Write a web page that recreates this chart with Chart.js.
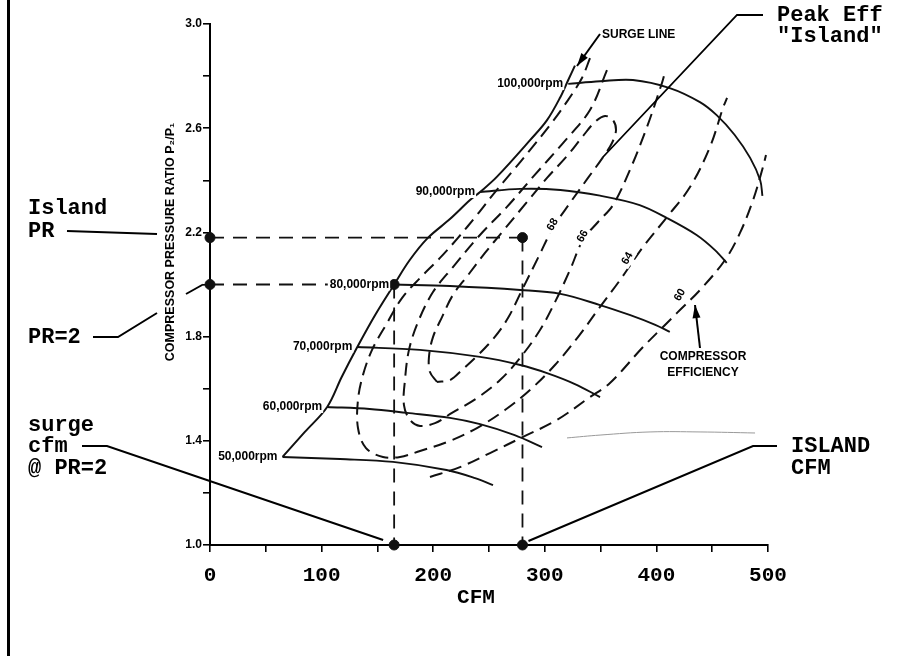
<!DOCTYPE html>
<html>
<head>
<meta charset="utf-8">
<title>Compressor map</title>
<script src="https://cdn.jsdelivr.net/npm/chart.js@4.4.0/dist/chart.umd.min.js"></script>
<style>
  html, body { margin: 0; padding: 0; background: #fff; }
  #wrap { position: relative; width: 899px; height: 656px; }
</style>
</head>
<body>
<div id="wrap"><canvas id="mapa"></canvas></div>
<script>
const xTicks = [0, 100, 200, 300, 400, 500];
const yTicks = [1.0, 1.4, 1.8, 2.2, 2.6, 3.0];

const surgeLine = [[65,1.338],[85,1.434],[105,1.53],[118,1.645],[132,1.76],[148,1.883],[165,2.0],
  [179,2.094],[195,2.178],[215,2.251],[233,2.324],[242,2.355],[257,2.413],[287,2.555],[302,2.631],
  [314,2.72],[321,2.785],[327,2.84]];

const rpm100 = [[321,2.77],[349.5,2.78],[379,2.785],[412,2.754],[439,2.70],[454,2.65],[470,2.575],[484,2.486],[493,2.40],[495,2.34]];
const rpm90 = [[242,2.355],[278,2.367],[314,2.363],[349.5,2.341],[385,2.305],[409.5,2.255],[436,2.19],[452.5,2.132],[463,2.083]];
const rpm80 = [[165,2.0],[215,1.994],[278,1.979],[314,1.964],[349.5,1.921],[376,1.883],[399,1.845],[412,1.818]];
const rpm70 = [[132,1.76],[188,1.749],[242,1.722],[278,1.691],[302,1.66],[327,1.618],[349.5,1.568]];
const rpm60 = [[105,1.53],[143,1.522],[176.5,1.507],[215,1.488],[242,1.464],[273,1.422],[297.5,1.376]];
const rpm50 = [[65,1.338],[116.5,1.33],[164,1.319],[212,1.288],[237.5,1.257],[253.6,1.23]];
const rpmNames = ['100,000rpm','90,000rpm','80,000rpm','70,000rpm','60,000rpm','50,000rpm'];

const eff68 = [[203.4,1.626],[197.1,1.664],[196.2,1.722],[199.8,1.798],[207.9,1.875],[217.7,1.96],
  [231.2,2.036],[246.4,2.121],[262.5,2.205],[284.1,2.317],[302,2.409],[319.9,2.493],[334.2,2.57],
  [345,2.624],[353.9,2.647],[361.1,2.631],[363.8,2.593],[360.2,2.543],[352.2,2.489],[338.7,2.409],
  [322.6,2.313],[307.3,2.217],[293.9,2.102],[279.6,1.979],[267,1.871],[254.5,1.795],[240.1,1.729],
  [225.8,1.672],[215.1,1.633],[203.4,1.626]];
const eff66 = [[355.7,2.823],[340.5,2.67],[316.3,2.543],[289.4,2.413],[266.1,2.298],[241.9,2.19],
  [217.7,2.067],[199.8,1.971],[186.4,1.856],[178.3,1.749],[174.7,1.633],[173.8,1.537],[179.2,1.48],
  [188.2,1.457],[201.6,1.468],[216.8,1.507],[239.2,1.564],[259.9,1.633],[277.8,1.718],[295.7,1.825],
  [310,1.94],[322.6,2.056],[334.2,2.171],[347.7,2.24],[361.1,2.305],[376.3,2.44],[391.6,2.605],
  [405,2.774],[407.7,2.816]];
const eff64 = [[340.5,2.869],[333.3,2.793],[320.8,2.708],[304.7,2.612],[286.7,2.516],[270.6,2.432],
  [255.4,2.355],[239.2,2.267],[222.2,2.179],[206.1,2.102],[188.2,2.025],[172,1.948],[157.7,1.845],
  [145.2,1.749],[137.1,1.653],[132.6,1.557],[132.6,1.449],[139.8,1.372],[155,1.338],[170.3,1.338],
  [188.2,1.361],[212.4,1.395],[239.2,1.449],[264.3,1.518],[286.7,1.595],[309.1,1.691],[329.7,1.798],
  [349.5,1.914],[367.4,2.017],[388,2.144],[409.5,2.259],[430.1,2.374],[448,2.528],[459.7,2.678],[463.3,2.716]];
const eff60 = [[197.1,1.261],[224,1.299],[250.9,1.353],[280.5,1.415],[310.9,1.48],[340.5,1.568],
  [358.4,1.622],[388,1.76],[405.9,1.837],[418.5,1.891],[439.1,1.979],[461.5,2.094],[474.9,2.198],
  [486.6,2.324],[495.5,2.451],[498.2,2.497]];
const effNames = ['68', '66', '64', '60'];
const effLabelAt = [[307,2.23],[334,2.185],[374,2.10],[421,1.96]];

// trazo tenue del original escaneado
const scanMark = [[319.9,1.411],[349.5,1.422],[394.3,1.434],[439.1,1.434],[488.4,1.43]];

// puntos de lectura
const islandCfm = 280, islandPr = 2.18;
const surgeCfm = 165, surgePr = 2.0;

const xy = arr => arr.map(p => ({ x: p[0], y: p[1] }));
const negro = '#111';

function curva(arr, dash, w) {
  return { data: xy(arr), showLine: true, borderColor: negro, borderWidth: w || 1.9,
    borderDash: dash || [], pointRadius: 0, tension: 0.35, fill: false };
}
function guia(arr) {
  return { data: xy(arr), showLine: true, borderColor: negro, borderWidth: 1.8,
    borderDash: [14, 9], pointRadius: 0, tension: 0, clip: false };
}

const speedLines = [rpm100, rpm90, rpm80, rpm70, rpm60, rpm50];
const effLines = [eff68, eff66, eff64, eff60];

const datasets = [
  { data: xy([[0,islandPr],[0,surgePr],[surgeCfm,surgePr],[islandCfm,islandPr],[surgeCfm,1.0],[islandCfm,1.0]]),
    pointRadius: 5, pointBackgroundColor: negro, pointBorderColor: negro, showLine: false, clip: false },
  guia([[0,islandPr],[islandCfm,islandPr]]),
  guia([[islandCfm,islandPr],[islandCfm,1.0]]),
  guia([[0,surgePr],[surgeCfm,surgePr]]),
  guia([[surgeCfm,surgePr],[surgeCfm,1.0]]),
  curva(surgeLine, [], 2),
  ...speedLines.map(s => curva(s)),
  ...effLines.map(s => curva(s, [13, 7], 2)),
  { data: xy(scanMark), showLine: true, borderColor: '#999', borderWidth: 1, pointRadius: 0, tension: 0.4 }
];

function linea(c, pts, w) {
  c.beginPath();
  c.moveTo(pts[0][0], pts[0][1]);
  pts.slice(1).forEach(p => c.lineTo(p[0], p[1]));
  c.lineWidth = w;
  c.stroke();
}
function flecha(c, x0, y0, x1, y1) {
  linea(c, [[x0, y0], [x1, y1]], 2);
  const a = Math.atan2(y1 - y0, x1 - x0);
  c.beginPath();
  c.moveTo(x1, y1);
  c.lineTo(x1 - 13 * Math.cos(a) + 4 * Math.sin(a), y1 - 13 * Math.sin(a) - 4 * Math.cos(a));
  c.lineTo(x1 - 13 * Math.cos(a) - 4 * Math.sin(a), y1 - 13 * Math.sin(a) + 4 * Math.cos(a));
  c.closePath();
  c.fill();
}

const notas = {
  id: 'notas',
  afterDraw(chart) {
    const c = chart.ctx, sx = chart.scales.x, sy = chart.scales.y;
    const px = v => sx.getPixelForValue(v), py = v => sy.getPixelForValue(v);
    c.save();
    c.fillStyle = '#000';
    c.strokeStyle = '#000';
    c.fillRect(7, 0, 3, 656);

    // rotulos de velocidad (con fondo blanco, cortan la linea guia)
    c.font = 'bold 12px "Liberation Sans", Arial, sans-serif';
    c.textAlign = 'right';
    c.textBaseline = 'middle';
    speedLines.forEach((s, i) => {
      const x = px(s[0][0]) - 5, y = py(s[0][1]);
      const w = c.measureText(rpmNames[i]).width;
      c.fillStyle = '#fff';
      c.fillRect(x - w - 2, y - 6, w + 3, 12);
      c.fillStyle = '#000';
      c.fillText(rpmNames[i], x, y);
    });

    // rotulos de eficiencia
    c.font = 'bold 11px "Liberation Sans", Arial, sans-serif';
    c.textAlign = 'center';
    effNames.forEach((t, i) => {
      c.save();
      c.translate(px(effLabelAt[i][0]), py(effLabelAt[i][1]));
      c.rotate(-Math.PI / 3);
      c.fillStyle = '#fff';
      c.fillRect(-9, -6, 18, 12);
      c.fillStyle = '#000';
      c.fillText(t, 0, 0);
      c.restore();
    });

    // titulo eje y
    c.save();
    c.translate(171, 242);
    c.rotate(-Math.PI / 2);
    c.font = 'bold 12.5px "Liberation Sans", Arial, sans-serif';
    c.fillText('COMPRESSOR PRESSURE RATIO P\u2082/P\u2081', 0, 0);
    c.restore();

    // titulo eje x
    c.font = 'bold 21px "Liberation Mono", "Courier New", monospace';
    c.fillText('CFM', 476, 598);

    // notas en mayusculas pequenas
    c.font = 'bold 12px "Liberation Sans", Arial, sans-serif';
    c.textAlign = 'left';
    c.fillText('SURGE LINE', 602, 35);
    flecha(c, 600, 34, 577, 66);
    c.textAlign = 'center';
    c.fillText('COMPRESSOR', 703, 357);
    c.fillText('EFFICIENCY', 703, 373);
    flecha(c, 700, 348, 695, 305);

    // anotaciones en courier
    c.font = 'bold 22px "Liberation Mono", "Courier New", monospace';
    c.textAlign = 'left';
    c.fillText('Island', 28, 208);
    c.fillText('PR', 28, 231);
    c.fillText('PR=2', 28, 337);
    c.fillText('surge', 28, 425);
    c.fillText('cfm', 28, 446);
    c.fillText('@ PR=2', 28, 468);
    c.fillText('Peak Eff', 777, 15);
    c.fillText('"Island"', 777, 36);
    c.fillText('ISLAND', 791, 446);
    c.fillText('CFM', 791, 468);

    // lineas de llamada
    linea(c, [[67, 231], [157, 234]], 2);
    linea(c, [[93, 337], [118, 337], [157, 313]], 2);
    linea(c, [[186, 294], [px(0) - 7, py(surgePr)]], 2);
    linea(c, [[82, 446], [107, 446], [px(surgeCfm) - 11, py(1.0) - 5]], 2);
    linea(c, [[777, 446], [753, 446], [px(islandCfm) + 6, py(1.0) - 4]], 2);
    linea(c, [[763, 15], [737, 15], [603, 157]], 1.8);
    c.restore();
  }
};

new Chart(document.getElementById('mapa'), {
  type: 'scatter',
  data: { datasets: datasets },
  plugins: [notas],
  options: {
    responsive: true,
    maintainAspectRatio: false,
    animation: false,
    layout: { padding: { top: 24, right: 131, bottom: 0, left: 0 } },
    plugins: { legend: { display: false }, tooltip: { enabled: false } },
    scales: {
      x: {
        type: 'linear', min: 0, max: 500,
        afterFit: s => { s.height = 111; },
        border: { display: true, color: '#000', width: 2 },
        grid: { drawOnChartArea: false, color: '#000', lineWidth: 1.6, tickLength: 7 },
        ticks: {
          stepSize: 50, padding: 11, color: '#000', maxRotation: 0, autoSkip: false,
          font: { family: '"Liberation Mono", "Courier New", monospace', size: 21, weight: 'bold' },
          callback: v => xTicks.includes(v) ? String(v) : ''
        }
      },
      y: {
        type: 'linear', min: 1, max: 3,
        afterFit: s => { s.width = 210; },
        border: { display: true, color: '#000', width: 2 },
        grid: { drawOnChartArea: false, color: '#000', lineWidth: 1.6, tickLength: 7 },
        ticks: {
          stepSize: 0.2, padding: 1, color: '#000', autoSkip: false,
          font: { family: '"Liberation Sans", Arial, sans-serif', size: 12, weight: 'bold' },
          callback: v => yTicks.some(t => Math.abs(t - v) < 1e-6) ? v.toFixed(1) : ''
        }
      }
    }
  }
});
</script>
</body>
</html>
